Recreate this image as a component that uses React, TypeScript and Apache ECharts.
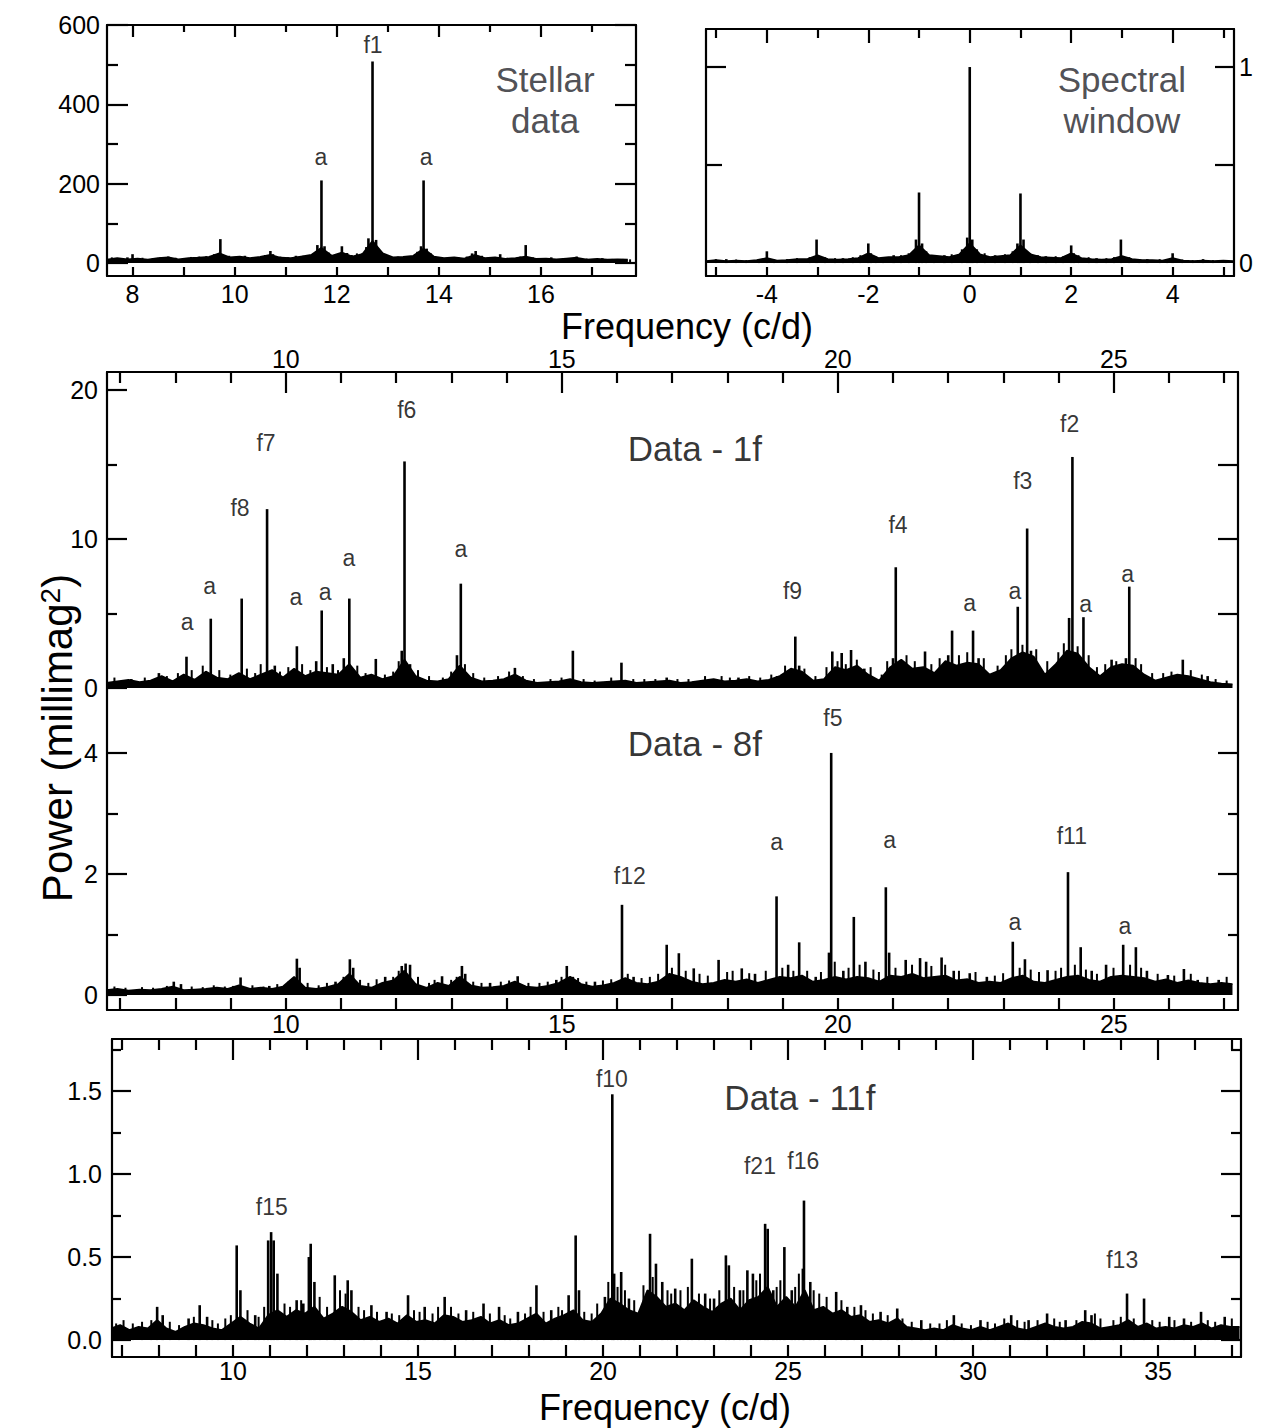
import React, { useEffect, useRef } from "react";
import * as echarts from "echarts";

const FONT = '"Liberation Sans", Arial, Helvetica, sans-serif';
const INK = "#000";
const TXT = "#000";

// ---------- Panel 1: Stellar data ----------
const P1_FLOOR_START = 7.5;
const P1_FLOOR_STEP = 0.2;
const P1_FLOOR = [8, 12, 9, 11, 8, 12, 14, 9, 12, 13, 15, 24, 14, 16, 12, 15, 20, 13, 12, 16, 20, 38, 18, 26, 16, 22, 55, 24, 14, 15, 18, 36, 16, 12, 14, 11, 20, 12, 14, 10, 12, 16, 10, 11, 9, 11, 13, 8, 10, 8, 9, 8];
const P1_SPIKES = [[7.9, 14], [8.0, 22], [8.4, 12], [8.7, 16], [9.0, 12], [9.3, 16], [9.6, 22], [9.72, 60], [9.8, 20], [10.2, 18], [10.45, 14], [10.7, 30], [10.75, 22], [11.2, 18], [11.45, 16], [11.62, 45], [11.7, 208], [11.76, 42], [12.1, 42], [12.2, 25], [12.5, 24], [12.62, 62], [12.7, 508], [12.77, 58], [12.85, 30], [13.2, 16], [13.5, 16], [13.65, 42], [13.7, 208], [13.76, 36], [14.2, 14], [14.65, 24], [14.72, 30], [15.2, 22], [15.5, 12], [15.7, 45], [16.2, 14], [16.7, 16], [17.2, 12], [17.6, 10]];
const P1_NOISE = [[7.6, 14], [7.75, 12], [8.2, 13], [8.55, 14], [8.85, 13], [9.15, 15], [9.45, 17], [9.9, 18], [10.05, 16], [10.35, 15], [10.6, 20], [10.9, 16], [11.05, 14], [11.35, 18], [11.55, 24], [11.85, 26], [12.0, 22], [12.3, 20], [12.4, 24], [12.58, 40], [12.82, 36], [12.95, 22], [13.05, 16], [13.35, 15], [13.58, 28], [13.85, 24], [14.0, 15], [14.4, 13], [14.55, 16], [14.85, 18], [15.0, 14], [15.35, 13], [15.6, 16], [15.85, 14], [16.0, 12], [16.45, 12], [16.9, 11], [17.05, 10], [17.4, 10], [17.75, 9]];
const P1_LABELS = [["f1", 12.71, 549], ["a", 11.69, 267], ["a", 13.75, 267], ["Stellar\ndata", 16.08, 410]];
const P1_X_TICKS = [8, 9, 10, 11, 12, 13, 14, 15, 16, 17];
const P1_X_LABELS = [8, 10, 12, 14, 16];
const P1_X_MINOR = [9, 11, 13, 15, 17];
const P1_Y_MAJOR = [0, 200, 400, 600];
const P1_Y_MINOR = [100, 300, 500];

// ---------- Panel 2: Spectral window ----------
const P2_FLOOR_START = -5.2;
const P2_FLOOR_STEP = 0.2;
const P2_FLOOR = [0.01, 0.015, 0.01, 0.012, 0.01, 0.015, 0.025, 0.012, 0.015, 0.02, 0.02, 0.04, 0.02, 0.018, 0.02, 0.025, 0.05, 0.025, 0.03, 0.03, 0.04, 0.09, 0.04, 0.035, 0.03, 0.045, 0.1, 0.045, 0.03, 0.035, 0.04, 0.09, 0.045, 0.03, 0.028, 0.025, 0.05, 0.025, 0.02, 0.018, 0.02, 0.035, 0.02, 0.015, 0.015, 0.012, 0.025, 0.012, 0.01, 0.012, 0.01, 0.012, 0.01];
const P2_SPIKES = [[-4.8, 0.02], [-4.0, 0.06], [-3.6, 0.02], [-3.02, 0.12], [-2.5, 0.025], [-2.0, 0.1], [-1.95, 0.05], [-1.5, 0.04], [-1.06, 0.12], [-1.0, 0.36], [-0.94, 0.1], [-0.5, 0.04], [-0.05, 0.13], [0, 1.0], [0.05, 0.12], [0.5, 0.04], [0.94, 0.1], [1.0, 0.355], [1.06, 0.12], [1.5, 0.035], [2.0, 0.09], [2.05, 0.05], [2.5, 0.025], [2.98, 0.12], [3.5, 0.02], [4.0, 0.05], [4.6, 0.02]];
const P2_NOISE = [[-5.0, 0.02], [-4.6, 0.018], [-4.4, 0.015], [-4.15, 0.02], [-3.85, 0.018], [-3.4, 0.025], [-3.15, 0.03], [-2.85, 0.03], [-2.65, 0.025], [-2.3, 0.03], [-2.15, 0.04], [-1.85, 0.035], [-1.7, 0.03], [-1.35, 0.04], [-1.2, 0.05], [-0.85, 0.06], [-0.7, 0.04], [-0.35, 0.045], [-0.15, 0.07], [0.15, 0.07], [0.3, 0.05], [0.7, 0.045], [0.85, 0.06], [1.2, 0.05], [1.35, 0.04], [1.7, 0.035], [1.85, 0.035], [2.15, 0.04], [2.35, 0.03], [2.7, 0.025], [2.85, 0.03], [3.15, 0.03], [3.35, 0.02], [3.75, 0.02], [3.9, 0.02], [4.2, 0.018], [4.4, 0.015], [4.8, 0.015], [5.05, 0.015]];
const P2_LABELS = [["Spectral\nwindow", 3.0, 0.83]];
const P2_X_TICKS = [-5, -4, -3, -2, -1, 0, 1, 2, 3, 4, 5];
const P2_X_LABELS = [-4, -2, 0, 2, 4];
const P2_X_MINOR = [-5, -3, -1, 1, 3, 5];
const P2_Y_LABELS = [0, 1];

// ---------- Panel 3: Data - 1f ----------
const P3_FLOOR_START = 6.75;
const P3_FLOOR_STEP = 0.2;
const P3_FLOOR = [0.35, 0.45, 0.55, 0.4, 0.5, 0.8, 0.45, 0.9, 0.55, 1.1, 0.7, 0.6, 1.0, 0.6, 0.9, 1.2, 0.7, 1.3, 0.8, 1.1, 1.0, 0.9, 1.6, 0.7, 0.9, 0.6, 0.8, 1.9, 0.8, 0.5, 0.45, 0.6, 1.5, 0.7, 0.45, 0.5, 0.6, 0.9, 0.5, 0.35, 0.4, 0.45, 0.6, 0.4, 0.35, 0.4, 0.45, 0.5, 0.35, 0.4, 0.45, 0.5, 0.35, 0.4, 0.5, 0.6, 0.45, 0.5, 0.6, 0.45, 0.55, 0.8, 1.3, 1.1, 0.5, 0.6, 1.4, 1.2, 1.5, 0.9, 0.5, 1.4, 1.9, 1.3, 1.4, 1.0, 1.8, 1.5, 1.7, 1.6, 0.9, 1.2, 2.0, 2.4, 2.1, 0.9, 1.6, 2.5, 2.3, 1.4, 0.8, 1.4, 1.6, 1.5, 0.9, 0.5, 0.7, 0.9, 0.8, 0.6, 0.4, 0.3, 0.25];
const P3_SPIKES = [[7.2, 0.6], [7.7, 1.0], [8.2, 2.1], [8.64, 4.65], [9.2, 6.0], [9.66, 12.0], [9.8, 1.5], [10.2, 2.8], [10.55, 1.8], [10.65, 5.2], [10.85, 1.6], [11.05, 2.0], [11.15, 6.0], [11.63, 1.95], [12.1, 2.5], [12.15, 15.2], [12.25, 1.6], [13.1, 2.2], [13.17, 7.0], [14.15, 1.35], [15.2, 2.5], [16.08, 1.7], [16.9, 0.7], [18.2, 0.7], [18.9, 0.8], [19.23, 3.45], [19.3, 1.5], [19.9, 2.45], [20.07, 2.35], [20.24, 2.55], [20.48, 1.3], [21.0, 2.0], [21.05, 8.1], [21.15, 1.8], [21.58, 2.45], [22.0, 2.2], [22.07, 3.85], [22.45, 3.85], [22.55, 2.0], [23.26, 5.45], [23.43, 10.7], [23.5, 2.5], [24.19, 4.7], [24.25, 15.5], [24.45, 4.75], [24.96, 1.9], [25.22, 2.0], [25.28, 6.8], [26.25, 1.9], [26.7, 0.8]];
const P3_NOISE = [[6.9, 0.7], [7.05, 0.5], [7.45, 0.7], [7.85, 0.8], [8.05, 1.0], [8.3, 1.2], [8.5, 1.5], [8.8, 1.2], [9.0, 0.9], [9.3, 1.3], [9.45, 1.0], [9.55, 1.6], [9.9, 1.1], [10.05, 1.4], [10.3, 1.6], [10.45, 1.2], [10.75, 1.4], [10.95, 1.2], [11.3, 1.5], [11.45, 1.0], [11.8, 0.9], [11.95, 1.1], [12.05, 1.8], [12.4, 1.2], [12.6, 0.8], [12.85, 0.7], [13.0, 1.1], [13.25, 1.6], [13.4, 1.0], [13.6, 0.7], [13.85, 0.8], [14.05, 1.1], [14.3, 0.8], [14.5, 0.6], [14.8, 0.6], [15.0, 0.7], [15.4, 0.6], [15.6, 0.5], [15.9, 0.7], [16.3, 0.6], [16.5, 0.6], [16.7, 0.6], [17.1, 0.6], [17.3, 0.6], [17.6, 0.8], [17.9, 0.8], [18.05, 0.7], [18.4, 0.8], [18.6, 0.7], [18.8, 0.9], [19.05, 1.5], [19.4, 1.3], [19.6, 0.8], [19.8, 1.4], [20.0, 1.8], [20.15, 1.6], [20.35, 1.9], [20.6, 1.4], [20.8, 0.9], [20.9, 1.8], [21.25, 2.2], [21.4, 1.8], [21.7, 1.6], [21.85, 2.0], [22.2, 2.2], [22.35, 2.4], [22.65, 2.0], [22.9, 1.5], [23.05, 2.2], [23.15, 2.6], [23.35, 2.9], [23.6, 2.6], [23.8, 1.8], [24.0, 2.4], [24.1, 3.0], [24.35, 2.8], [24.55, 2.2], [24.7, 1.4], [24.85, 1.6], [25.05, 1.8], [25.4, 2.0], [25.5, 1.6], [25.7, 1.0], [25.9, 1.0], [26.05, 1.1], [26.4, 1.2], [26.6, 0.9], [26.85, 0.6], [27.05, 0.5]];
const P3_LABELS = [["a", 8.21, 4.43], ["a", 8.62, 6.85], ["f8", 9.17, 12.08], ["f7", 9.64, 16.44], ["a", 10.18, 6.1], ["a", 10.71, 6.44], ["a", 11.14, 8.72], ["f6", 12.19, 18.66], ["a", 13.17, 9.33], ["Data - 1f", 17.41, 16.1], ["f9", 19.18, 6.51], ["f4", 21.09, 10.94], ["a", 22.39, 5.7], ["a", 23.21, 6.5], ["f3", 23.35, 13.9], ["f2", 24.2, 17.7], ["a", 24.49, 5.64], ["a", 25.25, 7.65]];
const P34_X_LABELS = [10, 15, 20, 25];
const P34_X_MINOR = [7, 8, 9, 11, 12, 13, 14, 16, 17, 18, 19, 21, 22, 23, 24, 26, 27];
const P34_X_TICKS = [7, 8, 9, 10, 11, 12, 13, 14, 15, 16, 17, 18, 19, 20, 21, 22, 23, 24, 25, 26, 27];
const P3_Y_MAJOR = [0, 10, 20];
const P3_Y_MINOR = [5, 15];

// ---------- Panel 4: Data - 8f ----------
const P4_FLOOR_START = 6.75;
const P4_FLOOR_STEP = 0.2;
const P4_FLOOR = [0.08, 0.1, 0.07, 0.09, 0.08, 0.1, 0.14, 0.08, 0.09, 0.1, 0.12, 0.1, 0.16, 0.1, 0.12, 0.1, 0.14, 0.3, 0.12, 0.1, 0.13, 0.18, 0.35, 0.15, 0.12, 0.2, 0.24, 0.4, 0.18, 0.12, 0.2, 0.15, 0.3, 0.16, 0.12, 0.13, 0.15, 0.22, 0.14, 0.12, 0.15, 0.2, 0.3, 0.18, 0.14, 0.16, 0.2, 0.28, 0.2, 0.18, 0.22, 0.35, 0.3, 0.22, 0.18, 0.2, 0.25, 0.22, 0.26, 0.2, 0.25, 0.3, 0.28, 0.32, 0.22, 0.25, 0.3, 0.26, 0.3, 0.28, 0.22, 0.32, 0.3, 0.35, 0.28, 0.3, 0.32, 0.24, 0.26, 0.2, 0.22, 0.2, 0.28, 0.32, 0.22, 0.2, 0.25, 0.3, 0.32, 0.25, 0.22, 0.3, 0.32, 0.3, 0.28, 0.22, 0.26, 0.2, 0.24, 0.2, 0.18, 0.2, 0.18];
const P4_SPIKES = [[7.97, 0.22], [8.1, 0.18], [9.18, 0.29], [9.7, 0.15], [10.2, 0.6], [10.25, 0.45], [10.9, 0.22], [11.16, 0.59], [11.22, 0.45], [11.8, 0.3], [12.1, 0.48], [12.17, 0.52], [12.25, 0.5], [12.83, 0.31], [13.19, 0.48], [13.25, 0.35], [13.7, 0.2], [14.2, 0.31], [14.9, 0.25], [15.09, 0.48], [15.2, 0.3], [15.6, 0.22], [16.09, 1.49], [16.3, 0.3], [16.9, 0.83], [17.12, 0.69], [17.39, 0.44], [17.84, 0.58], [18.26, 0.44], [18.5, 0.35], [18.89, 1.63], [19.1, 0.5], [19.3, 0.87], [19.6, 0.3], [19.84, 0.7], [19.88, 4.0], [20.1, 0.4], [20.29, 1.29], [20.5, 0.55], [20.87, 1.78], [20.93, 0.7], [21.23, 0.58], [21.49, 0.61], [21.6, 0.55], [21.88, 0.62], [22.1, 0.4], [22.39, 0.36], [22.7, 0.3], [23.17, 0.88], [23.39, 0.59], [23.8, 0.41], [24.17, 2.03], [24.4, 0.79], [24.6, 0.4], [24.86, 0.5], [25.17, 0.83], [25.4, 0.79], [25.6, 0.4], [25.98, 0.33], [26.27, 0.43], [26.52, 0.25], [26.9, 0.25]];
const P4_NOISE = [[6.9, 0.14], [7.1, 0.12], [7.4, 0.13], [7.6, 0.12], [7.85, 0.15], [8.3, 0.14], [8.5, 0.13], [8.7, 0.16], [8.9, 0.14], [9.05, 0.15], [9.4, 0.16], [9.6, 0.14], [9.85, 0.18], [10.05, 0.22], [10.4, 0.2], [10.6, 0.16], [10.75, 0.2], [11.05, 0.3], [11.35, 0.25], [11.5, 0.2], [11.65, 0.26], [11.95, 0.3], [12.05, 0.4], [12.4, 0.3], [12.6, 0.2], [12.7, 0.25], [13.0, 0.25], [13.1, 0.3], [13.4, 0.22], [13.55, 0.2], [13.9, 0.22], [14.05, 0.24], [14.4, 0.2], [14.6, 0.2], [14.75, 0.22], [15.0, 0.3], [15.3, 0.28], [15.45, 0.22], [15.75, 0.24], [15.9, 0.26], [16.2, 0.35], [16.45, 0.28], [16.6, 0.3], [16.75, 0.35], [17.0, 0.45], [17.25, 0.4], [17.5, 0.35], [17.65, 0.32], [18.0, 0.38], [18.1, 0.4], [18.4, 0.36], [18.7, 0.4], [19.0, 0.45], [19.2, 0.4], [19.45, 0.4], [19.7, 0.38], [19.95, 0.55], [20.2, 0.45], [20.4, 0.5], [20.65, 0.42], [20.75, 0.38], [21.05, 0.45], [21.35, 0.5], [21.7, 0.48], [21.95, 0.5], [22.2, 0.4], [22.5, 0.38], [22.85, 0.32], [23.0, 0.36], [23.3, 0.45], [23.5, 0.42], [23.65, 0.38], [23.95, 0.4], [24.05, 0.45], [24.3, 0.5], [24.5, 0.42], [24.7, 0.35], [25.0, 0.45], [25.3, 0.5], [25.5, 0.45], [25.8, 0.35], [26.1, 0.32], [26.4, 0.35], [26.7, 0.3], [27.05, 0.3]];
const P4_LABELS = [["Data - 8f", 17.41, 4.15], ["f5", 19.91, 4.58], ["f12", 16.23, 1.97], ["a", 18.89, 2.53], ["a", 20.94, 2.56], ["f11", 24.24, 2.63], ["a", 23.21, 1.21], ["a", 25.2, 1.14]];
const P4_Y_MAJOR = [0, 2, 4];
const P4_Y_MINOR = [1, 3];

// ---------- Panel 5: Data - 11f ----------
const P5_FLOOR_START = 6.7;
const P5_FLOOR_STEP = 0.25;
const P5_FLOOR = [0.07, 0.09, 0.06, 0.08, 0.07, 0.12, 0.07, 0.05, 0.08, 0.1, 0.09, 0.07, 0.06, 0.1, 0.14, 0.1, 0.07, 0.15, 0.18, 0.14, 0.18, 0.16, 0.2, 0.13, 0.16, 0.2, 0.17, 0.12, 0.14, 0.11, 0.13, 0.1, 0.15, 0.11, 0.12, 0.1, 0.15, 0.14, 0.11, 0.12, 0.14, 0.1, 0.12, 0.09, 0.1, 0.13, 0.16, 0.1, 0.13, 0.15, 0.18, 0.12, 0.11, 0.16, 0.25, 0.22, 0.18, 0.16, 0.3, 0.26, 0.2, 0.22, 0.18, 0.24, 0.2, 0.17, 0.22, 0.25, 0.18, 0.24, 0.26, 0.32, 0.2, 0.26, 0.2, 0.3, 0.18, 0.2, 0.16, 0.18, 0.14, 0.15, 0.11, 0.12, 0.1, 0.13, 0.08, 0.07, 0.06, 0.07, 0.06, 0.09, 0.07, 0.06, 0.08, 0.06, 0.08, 0.1, 0.07, 0.06, 0.08, 0.1, 0.08, 0.07, 0.08, 0.11, 0.1, 0.07, 0.08, 0.09, 0.12, 0.08, 0.1, 0.07, 0.08, 0.07, 0.09, 0.08, 0.1, 0.07, 0.09, 0.08, 0.08];
const P5_SPIKES = [[7.95, 0.2], [8.1, 0.15], [8.8, 0.13], [9.1, 0.21], [9.3, 0.14], [10.1, 0.57], [10.2, 0.3], [10.6, 0.15], [10.95, 0.6], [11.03, 0.65], [11.1, 0.6], [11.2, 0.4], [11.72, 0.24], [11.9, 0.22], [12.05, 0.5], [12.1, 0.58], [12.2, 0.35], [12.75, 0.39], [13.1, 0.36], [13.2, 0.3], [13.74, 0.21], [14.15, 0.17], [14.73, 0.27], [15.18, 0.2], [15.72, 0.26], [16.3, 0.18], [16.77, 0.22], [17.19, 0.2], [17.7, 0.17], [18.2, 0.33], [18.6, 0.18], [19.07, 0.27], [19.26, 0.63], [19.35, 0.3], [20.05, 0.26], [20.25, 1.48], [20.3, 0.4], [20.49, 0.41], [20.7, 0.25], [21.27, 0.64], [21.43, 0.46], [21.6, 0.35], [21.95, 0.31], [22.4, 0.49], [22.76, 0.28], [23.0, 0.25], [23.32, 0.51], [23.4, 0.45], [23.7, 0.3], [23.9, 0.42], [24.05, 0.4], [24.38, 0.7], [24.45, 0.67], [24.6, 0.3], [24.9, 0.56], [25.1, 0.3], [25.4, 0.43], [25.43, 0.84], [25.6, 0.35], [26.3, 0.29], [26.6, 0.2], [26.97, 0.21], [27.5, 0.17], [27.95, 0.19], [28.6, 0.12], [29.48, 0.15], [30.2, 0.12], [31.03, 0.15], [31.5, 0.12], [32.0, 0.16], [32.5, 0.12], [33.03, 0.18], [33.2, 0.15], [34.16, 0.28], [34.62, 0.25], [35.3, 0.14], [35.7, 0.13], [36.16, 0.17], [36.8, 0.14]];
const P5_NOISE = [[6.85, 0.1], [7.05, 0.12], [7.3, 0.1], [7.55, 0.11], [7.8, 0.12], [8.3, 0.11], [8.55, 0.09], [8.95, 0.14], [9.45, 0.12], [9.6, 0.1], [9.8, 0.13], [9.95, 0.15], [10.4, 0.18], [10.7, 0.14], [10.85, 0.2], [11.4, 0.22], [11.55, 0.2], [11.85, 0.24], [12.35, 0.26], [12.55, 0.2], [12.9, 0.3], [13.05, 0.28], [13.4, 0.2], [13.55, 0.18], [13.9, 0.17], [14.3, 0.16], [14.5, 0.15], [14.9, 0.18], [15.05, 0.17], [15.4, 0.16], [15.55, 0.2], [15.9, 0.2], [16.1, 0.16], [16.5, 0.17], [16.95, 0.16], [17.35, 0.15], [17.5, 0.13], [17.9, 0.16], [18.05, 0.2], [18.4, 0.17], [18.8, 0.2], [18.9, 0.18], [19.5, 0.17], [19.7, 0.16], [19.85, 0.22], [20.15, 0.35], [20.4, 0.32], [20.6, 0.3], [20.85, 0.24], [21.1, 0.33], [21.35, 0.38], [21.75, 0.3], [21.85, 0.28], [22.1, 0.3], [22.3, 0.32], [22.6, 0.28], [22.9, 0.25], [23.15, 0.3], [23.55, 0.32], [23.8, 0.3], [24.15, 0.36], [24.25, 0.4], [24.7, 0.32], [24.8, 0.36], [25.2, 0.32], [25.3, 0.4], [25.7, 0.3], [25.85, 0.28], [26.05, 0.26], [26.45, 0.24], [26.8, 0.2], [27.1, 0.18], [27.3, 0.16], [27.7, 0.15], [28.1, 0.13], [28.35, 0.11], [28.85, 0.1], [29.1, 0.1], [29.3, 0.12], [29.7, 0.1], [29.95, 0.09], [30.4, 0.11], [30.6, 0.1], [30.85, 0.13], [31.2, 0.12], [31.4, 0.11], [31.75, 0.12], [32.2, 0.13], [32.35, 0.11], [32.8, 0.12], [33.3, 0.16], [33.45, 0.13], [33.8, 0.12], [34.0, 0.14], [34.35, 0.13], [34.85, 0.12], [35.05, 0.11], [35.45, 0.12], [35.9, 0.11], [36.35, 0.12], [36.55, 0.11], [37.0, 0.13]];
const P5_LABELS = [["Data - 11f", 25.32, 1.46], ["f10", 20.24, 1.57], ["f15", 11.05, 0.8], ["f21", 24.24, 1.05], ["f16", 25.41, 1.08], ["f13", 34.03, 0.48]];
const P5_X_LABELS = [10, 15, 20, 25, 30, 35];
const P5_X_TICKS = [7, 8, 9, 10, 11, 12, 13, 14, 15, 16, 17, 18, 19, 20, 21, 22, 23, 24, 25, 26, 27, 28, 29, 30, 31, 32, 33, 34, 35, 36, 37];
const P5_X_MINOR = [7, 8, 9, 11, 12, 13, 14, 16, 17, 18, 19, 21, 22, 23, 24, 26, 27, 28, 29, 31, 32, 33, 34, 36, 37];
const P5_Y_MAJOR = [0, 0.5, 1.0, 1.5];
const P5_Y_MINOR = [0.25, 0.75, 1.25, 1.75];

const X_TITLE = "Frequency (c/d)";

type AxSpec = {
  pos: string;
  ticks: number[];
  len: number;
  line: boolean;
  labels?: number[];
  margin?: number;
  fmt?: (v: number) => string;
};

function mkAxis(grid: number, min: number, max: number, s: AxSpec) {
  return {
    type: "value",
    gridIndex: grid,
    min,
    max,
    position: s.pos,
    splitLine: { show: false },
    minorTick: { show: false },
    axisLine: { show: s.line, onZero: false, lineStyle: { color: INK, width: 2.2 } },
    axisTick: {
      show: s.ticks.length > 0,
      inside: true,
      length: s.len,
      customValues: s.ticks,
      lineStyle: { color: INK, width: 2.2 },
    },
    axisLabel: s.labels
      ? {
          show: true,
          customValues: s.labels,
          margin: s.margin ?? 6,
          fontSize: 25,
          color: TXT,
          fontFamily: FONT,
          formatter: s.fmt,
        }
      : { show: false },
  };
}

export default function App() {
  const ref = useRef<HTMLDivElement>(null);

  useEffect(() => {
    if (!ref.current) return;
    const chart = echarts.init(ref.current, null, { renderer: "svg" });

    const grids = [
      { left: 107, top: 25, width: 529, height: 251 },
      { left: 706, top: 29, width: 528, height: 247 },
      { left: 107, top: 372, width: 1131, height: 318 },
      { left: 107, top: 690, width: 1131, height: 320 },
      { left: 112, top: 1039, width: 1129, height: 318 },
    ];

    const xAxes: any[] = [];
    const yAxes: any[] = [];
    const addX = (g: number, min: number, max: number, s: AxSpec) => {
      xAxes.push(mkAxis(g, min, max, s));
      return xAxes.length - 1;
    };
    const addY = (g: number, min: number, max: number, s: AxSpec) => {
      yAxes.push(mkAxis(g, min, max, s));
      return yAxes.length - 1;
    };

    // Panel 1
    const p1 = { xmin: 7.5, xmax: 17.86, ymin: -33, ymax: 600 };
    const x1 = addX(0, p1.xmin, p1.xmax, { pos: "bottom", ticks: P1_X_TICKS, len: 9, line: true, labels: P1_X_LABELS, margin: 5 });
    addX(0, p1.xmin, p1.xmax, { pos: "top", ticks: P1_X_LABELS, len: 12, line: true });
    addX(0, p1.xmin, p1.xmax, { pos: "top", ticks: P1_X_MINOR, len: 7, line: false });
    const y1 = addY(0, p1.ymin, p1.ymax, { pos: "left", ticks: P1_Y_MAJOR, len: 21, line: true, labels: P1_Y_MAJOR, margin: 7 });
    addY(0, p1.ymin, p1.ymax, { pos: "left", ticks: P1_Y_MINOR, len: 11, line: false });
    addY(0, p1.ymin, p1.ymax, { pos: "right", ticks: P1_Y_MAJOR, len: 21, line: true });
    addY(0, p1.ymin, p1.ymax, { pos: "right", ticks: P1_Y_MINOR, len: 11, line: false });

    // Panel 2
    const p2 = { xmin: -5.2, xmax: 5.21, ymin: -0.066, ymax: 1.194 };
    const x2 = addX(1, p2.xmin, p2.xmax, { pos: "bottom", ticks: P2_X_TICKS, len: 9, line: true, labels: P2_X_LABELS, margin: 5 });
    addX(1, p2.xmin, p2.xmax, { pos: "top", ticks: P2_X_LABELS, len: 14, line: true });
    addX(1, p2.xmin, p2.xmax, { pos: "top", ticks: P2_X_MINOR, len: 9, line: false });
    const y2 = addY(1, p2.ymin, p2.ymax, { pos: "left", ticks: [1], len: 20, line: true });
    addY(1, p2.ymin, p2.ymax, { pos: "left", ticks: [0.5], len: 16, line: false });
    addY(1, p2.ymin, p2.ymax, { pos: "right", ticks: [0.5, 1], len: 19, line: true, labels: P2_Y_LABELS, margin: 5 });

    // Panel 3
    const p3 = { xmin: 6.76, xmax: 27.25, ymin: -0.134, ymax: 21.2 };
    const x3 = addX(2, p3.xmin, p3.xmax, { pos: "top", ticks: P34_X_LABELS, len: 21, line: true, labels: P34_X_LABELS, margin: 1 });
    addX(2, p3.xmin, p3.xmax, { pos: "top", ticks: P34_X_MINOR, len: 11, line: false });
    const y3 = addY(2, p3.ymin, p3.ymax, { pos: "left", ticks: P3_Y_MAJOR, len: 20, line: true, labels: P3_Y_MAJOR, margin: 9 });
    addY(2, p3.ymin, p3.ymax, { pos: "left", ticks: P3_Y_MINOR, len: 10, line: false });
    addY(2, p3.ymin, p3.ymax, { pos: "right", ticks: [5, 10, 15], len: 20, line: true });

    // Panel 4
    const p4 = { xmin: 6.76, xmax: 27.25, ymin: -0.248, ymax: 5.04 };
    const x4 = addX(3, p4.xmin, p4.xmax, { pos: "bottom", ticks: P34_X_TICKS, len: 12, line: true, labels: P34_X_LABELS, margin: 1 });
    const y4 = addY(3, p4.ymin, p4.ymax, { pos: "left", ticks: P4_Y_MAJOR, len: 20, line: true, labels: P4_Y_MAJOR, margin: 9 });
    addY(3, p4.ymin, p4.ymax, { pos: "left", ticks: P4_Y_MINOR, len: 11, line: false });
    addY(3, p4.ymin, p4.ymax, { pos: "right", ticks: [2, 4], len: 20, line: true });
    addY(3, p4.ymin, p4.ymax, { pos: "right", ticks: P4_Y_MINOR, len: 10, line: false });

    // Panel 5
    const p5 = { xmin: 6.73, xmax: 37.24, ymin: -0.102, ymax: 1.813 };
    const x5 = addX(4, p5.xmin, p5.xmax, { pos: "bottom", ticks: P5_X_TICKS, len: 12, line: true, labels: P5_X_LABELS, margin: 1 });
    addX(4, p5.xmin, p5.xmax, { pos: "top", ticks: P5_X_LABELS, len: 21, line: true });
    addX(4, p5.xmin, p5.xmax, { pos: "top", ticks: P5_X_MINOR, len: 11, line: false });
    const y5 = addY(4, p5.ymin, p5.ymax, { pos: "left", ticks: P5_Y_MAJOR, len: 19, line: true, labels: P5_Y_MAJOR, margin: 10, fmt: (v: number) => v.toFixed(1) });
    addY(4, p5.ymin, p5.ymax, { pos: "left", ticks: P5_Y_MINOR, len: 9, line: false });
    addY(4, p5.ymin, p5.ymax, { pos: "right", ticks: P5_Y_MAJOR, len: 20, line: true });
    addY(4, p5.ymin, p5.ymax, { pos: "right", ticks: P5_Y_MINOR, len: 10, line: false });

    const panels = [
      { xi: x1, yi: y1, floor: P1_FLOOR, start: P1_FLOOR_START, step: P1_FLOOR_STEP, spikes: P1_SPIKES, noise: P1_NOISE, labels: P1_LABELS },
      { xi: x2, yi: y2, floor: P2_FLOOR, start: P2_FLOOR_START, step: P2_FLOOR_STEP, spikes: P2_SPIKES, noise: P2_NOISE, labels: P2_LABELS },
      { xi: x3, yi: y3, floor: P3_FLOOR, start: P3_FLOOR_START, step: P3_FLOOR_STEP, spikes: P3_SPIKES, noise: P3_NOISE, labels: P3_LABELS },
      { xi: x4, yi: y4, floor: P4_FLOOR, start: P4_FLOOR_START, step: P4_FLOOR_STEP, spikes: P4_SPIKES, noise: P4_NOISE, labels: P4_LABELS },
      { xi: x5, yi: y5, floor: P5_FLOOR, start: P5_FLOOR_START, step: P5_FLOOR_STEP, spikes: P5_SPIKES, noise: P5_NOISE, labels: P5_LABELS },
    ];

    const series: any[] = [];
    panels.forEach((p) => {
      series.push({
        type: "line",
        xAxisIndex: p.xi,
        yAxisIndex: p.yi,
        data: p.floor.map((v, i) => [p.start + i * p.step, v]),
        symbol: "none",
        lineStyle: { color: INK, width: 1.8 },
        areaStyle: { color: INK, opacity: 1 },
        silent: true,
        clip: true,
      });
      series.push({
        type: "bar",
        xAxisIndex: p.xi,
        yAxisIndex: p.yi,
        data: p.noise,
        barWidth: 2,
        itemStyle: { color: INK },
        silent: true,
      });
      series.push({
        type: "bar",
        xAxisIndex: p.xi,
        yAxisIndex: p.yi,
        data: p.spikes,
        barWidth: 2.6,
        barGap: "-100%",
        itemStyle: { color: INK },
        silent: true,
      });
      series.push({
        type: "scatter",
        xAxisIndex: p.xi,
        yAxisIndex: p.yi,
        symbolSize: 1,
        itemStyle: { color: "rgba(0,0,0,0)" },
        silent: true,
        data: p.labels.map((l: any) => {
          const name = String(l[0]);
          const big = name.length > 3;
          return {
            name,
            value: [l[1], l[2]],
            label: big
              ? { fontSize: 35, lineHeight: 41, color: name.includes("\n") ? "#222228" : TXT }
              : undefined,
          };
        }),
        label: {
          show: true,
          position: "inside",
          formatter: (d: any) => d.name,
          fontSize: 23,
          color: TXT,
          fontFamily: FONT,
        },
      });
    });

    const titleStyle = {
      text: X_TITLE,
      fontSize: 36,
      fontFamily: FONT,
      fill: TXT,
      align: "center",
      verticalAlign: "middle",
      textAlign: "center",
      textVerticalAlign: "middle",
    };

    chart.setOption({
      animation: false,
      backgroundColor: "#fff",
      grid: grids.map((g) => ({ ...g, show: false })),
      xAxis: xAxes,
      yAxis: yAxes,
      series,
      graphic: [
        { type: "text", x: 687, y: 326, style: { ...titleStyle } },
        { type: "text", x: 665, y: 1407, style: { ...titleStyle } },
        {
          type: "text",
          x: 57,
          y: 738,
          rotation: Math.PI / 2,
          style: {
            text: "{a|Power (millimag}{s|2}{a|)}",
            rich: {
              a: { fontSize: 42, fontFamily: FONT, fill: TXT },
              s: { fontSize: 28, fontFamily: FONT, fill: TXT, verticalAlign: "top" },
            },
            align: "center",
            verticalAlign: "middle",
            textAlign: "center",
            textVerticalAlign: "middle",
          },
        },
      ],
    });

    return () => chart.dispose();
  }, []);

  return (
    <div
      ref={ref}
      style={{ position: "absolute", left: 0, top: 0, width: 1263, height: 1428, background: "#fff" }}
    />
  );
}
